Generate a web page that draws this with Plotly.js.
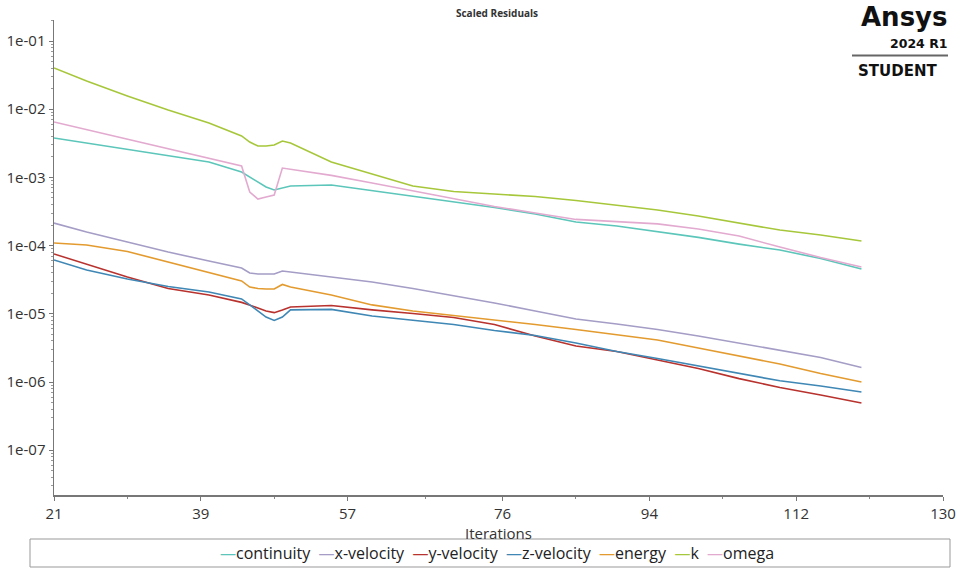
<!DOCTYPE html>
<html>
<head>
<meta charset="utf-8">
<script src="https://cdn.plot.ly/plotly-3.0.1.min.js"></script>
<style>html,body{margin:0;padding:0;background:#fff;}#chart{width:959px;height:569px;}</style>
</head>
<body>
<div id="chart"></div>
<script>
// ---- data ----
const iterations = [21, 25, 30, 35, 40, 44, 45, 46, 47, 48, 49, 50, 55, 60, 65, 70, 75, 80, 85, 90, 95, 100, 105, 110, 115, 120];

const continuity = [0.00379, 0.00319, 0.00261, 0.00206, 0.00168, 0.00120, 0.00101, 0.000858, 0.000723, 0.000653, 0.000700, 0.000748, 0.000774, 0.000643, 0.000525, 0.000435, 0.000362, 0.000290, 0.000222, 0.000194, 0.000161, 0.000132, 0.000105, 0.0000861, 0.0000647, 0.0000454];
const xVelocity = [0.000214, 0.000158, 0.000113, 0.0000805, 0.0000594, 0.0000470, 0.0000396, 0.0000384, 0.0000384, 0.0000384, 0.0000424, 0.0000410, 0.0000347, 0.0000292, 0.0000235, 0.0000185, 0.0000144, 0.0000110, 0.00000839, 0.00000708, 0.00000589, 0.00000472, 0.00000373, 0.00000290, 0.00000229, 0.00000163];
const yVelocity = [0.0000753, 0.0000537, 0.0000347, 0.0000235, 0.0000189, 0.0000147, 0.0000135, 0.0000122, 0.0000110, 0.0000104, 0.0000114, 0.0000126, 0.0000132, 0.0000114, 0.0000101, 0.00000883, 0.00000697, 0.00000472, 0.00000337, 0.00000280, 0.00000210, 0.00000158, 0.00000112, 0.000000830, 0.000000645, 0.000000492];
const zVelocity = [0.0000615, 0.0000439, 0.0000324, 0.0000251, 0.0000209, 0.0000165, 0.0000135, 0.0000110, 0.00000897, 0.00000798, 0.00000897, 0.0000114, 0.0000116, 0.00000929, 0.00000798, 0.00000697, 0.00000569, 0.00000481, 0.00000373, 0.00000280, 0.00000221, 0.00000172, 0.00000133, 0.00000104, 0.000000874, 0.000000713];
const energy = [0.000109, 0.000102, 0.0000819, 0.0000575, 0.0000410, 0.0000303, 0.0000247, 0.0000235, 0.0000231, 0.0000231, 0.0000269, 0.0000247, 0.0000189, 0.0000135, 0.0000110, 0.00000944, 0.00000824, 0.00000697, 0.00000589, 0.00000489, 0.00000413, 0.00000315, 0.00000241, 0.00000184, 0.00000133, 0.00000100];
const k = [0.0402, 0.0259, 0.01563, 0.00973, 0.00628, 0.00405, 0.00330, 0.00288, 0.00288, 0.00299, 0.00342, 0.00319, 0.00168, 0.00112, 0.000748, 0.000621, 0.000572, 0.000525, 0.000458, 0.000394, 0.000333, 0.000272, 0.000214, 0.000169, 0.000143, 0.000117];
const omega = [0.00648, 0.00500, 0.00362, 0.00261, 0.00188, 0.00147, 0.000611, 0.000482, 0.000516, 0.000552, 0.00137, 0.00131, 0.00107, 0.000828, 0.000632, 0.000482, 0.000374, 0.000301, 0.000242, 0.000225, 0.000208, 0.000175, 0.000138, 0.0000953, 0.0000669, 0.0000485];

const seriesNames = ['continuity', 'x-velocity', 'y-velocity', 'z-velocity', 'energy', 'k', 'omega'];
const seriesValues = [continuity, xVelocity, yVelocity, zVelocity, energy, k, omega];
const seriesColors = ['#5cc6ba', '#a59dc6', '#b8322e', '#3f87b5', '#e39b2f', '#a7c73b', '#e3aad0'];

const xTickVals = [21, 39, 57, 76, 94, 112, 130];
const xMinorVals = [30, 48, 66.5, 85, 103, 121];
const yTickVals = [1e-7, 1e-6, 1e-5, 1e-4, 1e-3, 1e-2, 1e-1];
const yTickText = ['1e-07', '1e-06', '1e-05', '1e-04', '1e-03', '1e-02', '1e-01'];

// ---- geometry helpers (pixel -> paper) ----
const L = 54, R = 943, T = 20, B = 495;
const px = x => (x - L) / (R - L);
const py = y => (B - y) / (B - T);

const traces = seriesNames.map((name, i) => ({
  type: 'scatter', mode: 'lines', name: name,
  x: iterations, y: seriesValues[i],
  line: {color: seriesColors[i], width: 1.6},
  hoverinfo: 'x+y+name'
}));

const legendText = seriesNames.map((n, i) =>
  `<span style="color:${seriesColors[i]}">—</span>${n}`).join('  ');

const font = 'Open Sans, Noto Sans, DejaVu Sans, sans-serif';
const logoFont = 'DejaVu Sans, Open Sans, sans-serif';

const layout = {
  width: 959, height: 569,
  margin: {l: L, r: 959 - R, t: T, b: 569 - B},
  paper_bgcolor: '#ffffff', plot_bgcolor: '#ffffff',
  showlegend: false,
  font: {family: font, color: '#333', size: 15},
  title: {text: '<b>Scaled Residuals</b>', font: {size: 10, color: '#333', family: font},
          xref: 'paper', x: px(497), xanchor: 'center', yref: 'container', y: 1 - 13 / 569, yanchor: 'middle'},
  xaxis: {
    range: [21, 130], tickmode: 'array', tickvals: xTickVals, ticktext: xTickVals.map(String),
    ticks: 'outside', ticklen: 4, tickcolor: '#777', showline: true, linecolor: '#777', linewidth: 1.5,
    showgrid: false, zeroline: false, tickfont: {size: 15, color: '#333'},
    minor: {tickmode: 'array', tickvals: xMinorVals, ticks: 'outside', ticklen: 2, tickcolor: '#888', showgrid: false},
    title: {text: 'Iterations', font: {size: 15, color: '#333'}, standoff: 1}
  },
  yaxis: {
    type: 'log', range: [-7.657, -0.692], tickmode: 'array', tickvals: yTickVals, ticktext: yTickText,
    ticks: 'outside', ticklen: 4, tickcolor: '#777', showline: true, linecolor: '#777', linewidth: 1.5,
    showgrid: false, zeroline: false, tickfont: {size: 15, color: '#333'},
    minor: {dtick: 'D1', ticks: 'outside', ticklen: 2, tickcolor: '#999', showgrid: false}
  },
  shapes: [
    {type: 'rect', xref: 'paper', yref: 'paper', x0: px(30), x1: px(950), y0: py(539), y1: py(567),
     line: {color: '#999', width: 1}, fillcolor: 'rgba(0,0,0,0)'},
    {type: 'line', xref: 'paper', yref: 'paper', x0: px(852), x1: px(948), y0: py(55.5), y1: py(55.5),
     line: {color: '#666', width: 2}}
  ],
  annotations: [
    {xref: 'paper', yref: 'paper', x: px(497), y: py(553), xanchor: 'center', yanchor: 'middle',
     text: legendText, showarrow: false, font: {size: 16, color: '#222', family: font}},
    {xref: 'paper', yref: 'paper', x: px(950), y: py(16.5), xanchor: 'right', yanchor: 'middle',
     text: '<b>Ansys</b>', showarrow: false, font: {size: 26, color: '#111', family: logoFont}},
    {xref: 'paper', yref: 'paper', x: px(949), y: py(44), xanchor: 'right', yanchor: 'middle',
     text: '<b>2024 R1</b>', showarrow: false, font: {size: 12.5, color: '#111', family: logoFont}},
    {xref: 'paper', yref: 'paper', x: px(897), y: py(70.5), xanchor: 'center', yanchor: 'middle',
     text: '<b>STUDENT</b>', showarrow: false, font: {size: 15, color: '#111', family: logoFont}}
  ]
};

Plotly.newPlot('chart', traces, layout, {displayModeBar: false, staticPlot: true});
</script>
</body>
</html>
